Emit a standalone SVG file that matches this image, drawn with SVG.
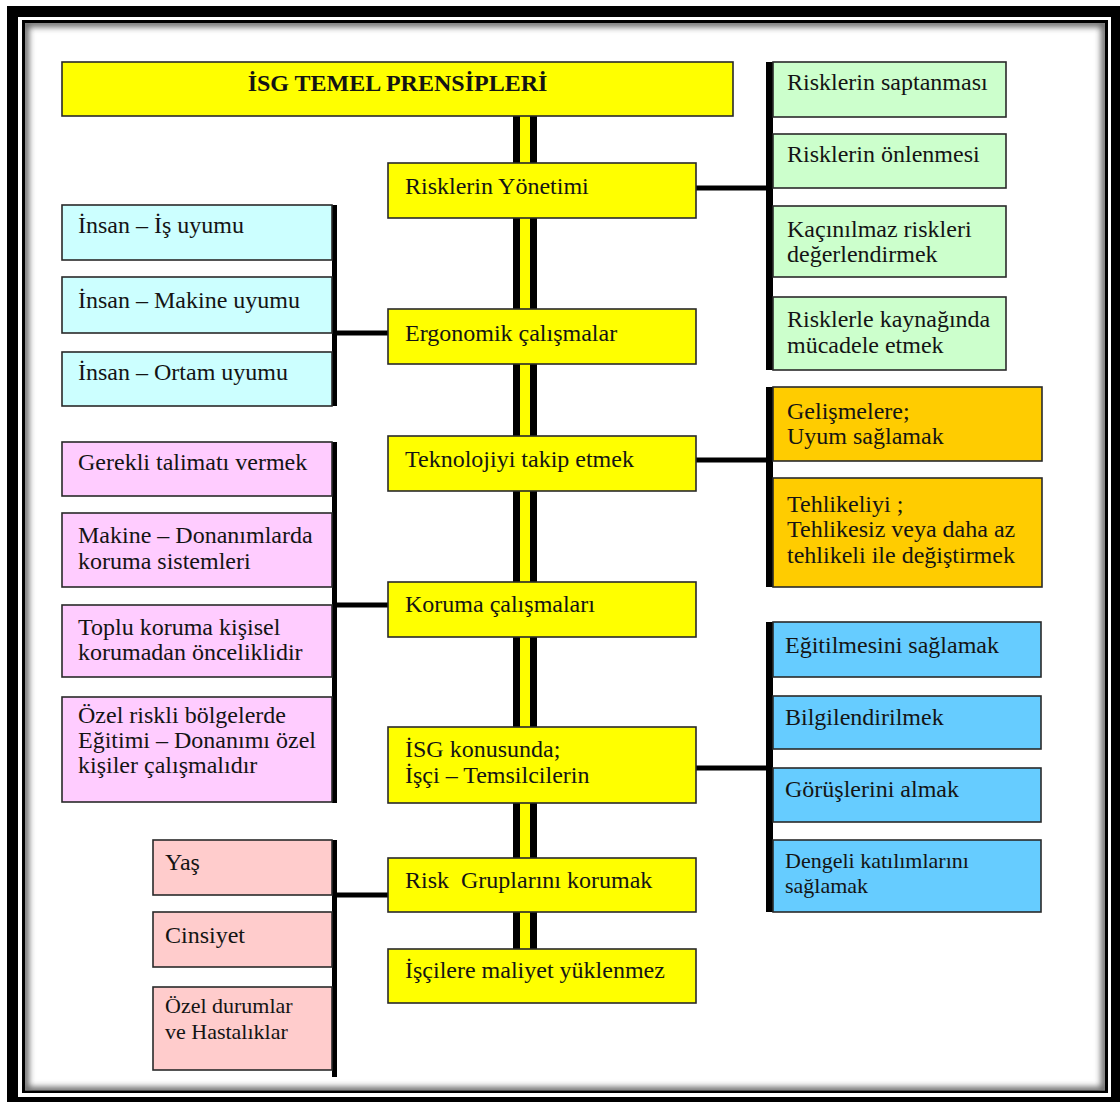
<svg xmlns="http://www.w3.org/2000/svg" width="1120" height="1102" viewBox="0 0 1120 1102">
  <defs>
    <style>
      .t { font-family: "Liberation Serif", "Times New Roman", serif; font-size: 24px; fill: #141414; white-space: pre; }
      .s { font-size: 22px; }
      .title { font-weight: bold; text-anchor: middle; }
      .box { stroke: #2a2a2a; stroke-width: 1.6; }
      .yel { fill: #ffff00; }
      .grn { fill: #ccffcc; }
      .cyn { fill: #ccffff; }
      .pnk { fill: #ffccff; }
      .org { fill: #ffcc00; }
      .blu { fill: #66ccff; }
      .sal { fill: #ffcccc; }
      .bar { fill: #000; }
      .ln { stroke: #000; stroke-width: 5; fill: none; }
    </style>
    <clipPath id="inner">
      <rect x="25" y="23" width="1080" height="1068"/>
    </clipPath>
    <filter id="blur" x="-5%" y="-5%" width="110%" height="110%">
      <feGaussianBlur stdDeviation="3"/>
    </filter>
  </defs>

  <!-- frame -->
  <rect x="0" y="0" width="1120" height="1102" fill="#fff"/>
  <rect x="7" y="6" width="1113" height="1096" fill="#000"/>
  <rect x="18" y="17" width="1093" height="1080" fill="#fff"/>
  <rect x="23.5" y="21.5" width="1083" height="1070" fill="#fff" stroke="#000" stroke-width="3"/>
  <g clip-path="url(#inner)">
    <rect x="25" y="23" width="1080" height="1068" fill="none" stroke="#666" stroke-width="8" filter="url(#blur)"/>
  </g>

  <!-- connectors -->
  <g id="connectors">
    <rect x="513" y="116" width="24" height="833" fill="#000"/>
    <rect x="520" y="116" width="10" height="833" fill="#ffff00"/>
    <line class="ln" x1="696" y1="188" x2="768" y2="188"/>
    <line class="ln" x1="335" y1="333" x2="388" y2="333"/>
    <line class="ln" x1="696" y1="460" x2="768" y2="460"/>
    <line class="ln" x1="335" y1="605" x2="388" y2="605"/>
    <line class="ln" x1="696" y1="768" x2="768" y2="768"/>
    <line class="ln" x1="335" y1="895" x2="388" y2="895"/>
    <rect class="bar" x="766" y="62" width="7" height="308"/>
    <rect class="bar" x="332" y="205" width="5" height="201"/>
    <rect class="bar" x="766" y="387" width="7" height="200"/>
    <rect class="bar" x="332" y="442" width="5" height="361"/>
    <rect class="bar" x="766" y="622" width="7" height="290"/>
    <rect class="bar" x="332" y="840" width="5" height="237"/>
  </g>

  <!-- main column -->
  <g id="title">
    <rect class="box yel" x="62" y="62" width="671" height="54"/>
    <text class="t title" x="397.5" y="91">İSG TEMEL PRENSİPLERİ</text>
  </g>
  <g id="risk-yonetimi">
    <rect class="box yel" x="388" y="163" width="308" height="55"/>
    <text class="t" x="405" y="194">Risklerin Yönetimi</text>
  </g>
  <g id="ergonomik">
    <rect class="box yel" x="388" y="309" width="308" height="55"/>
    <text class="t" x="405" y="341">Ergonomik çalışmalar</text>
  </g>
  <g id="teknoloji">
    <rect class="box yel" x="388" y="436" width="308" height="55"/>
    <text class="t" x="405" y="467">Teknolojiyi takip etmek</text>
  </g>
  <g id="koruma">
    <rect class="box yel" x="388" y="582" width="308" height="55"/>
    <text class="t" x="405" y="612">Koruma çalışmaları</text>
  </g>
  <g id="isg-konusunda">
    <rect class="box yel" x="388" y="727" width="308" height="76"/>
    <text class="t" x="405" y="757">İSG konusunda;</text>
    <text class="t" x="405" y="783">İşçi – Temsilcilerin</text>
  </g>
  <g id="risk-gruplari">
    <rect class="box yel" x="388" y="858" width="308" height="54"/>
    <text class="t" x="405" y="888">Risk  Gruplarını korumak</text>
  </g>
  <g id="maliyet">
    <rect class="box yel" x="388" y="949" width="308" height="54"/>
    <text class="t" x="405" y="978">İşçilere maliyet yüklenmez</text>
  </g>

  <!-- green (right top) -->
  <g id="g1">
    <rect class="box grn" x="773" y="62" width="233" height="55"/>
    <text class="t" x="787" y="90">Risklerin saptanması</text>
  </g>
  <g id="g2">
    <rect class="box grn" x="773" y="134" width="233" height="54"/>
    <text class="t" x="787" y="162">Risklerin önlenmesi</text>
  </g>
  <g id="g3">
    <rect class="box grn" x="773" y="206" width="233" height="71"/>
    <text class="t" x="787" y="237">Kaçınılmaz riskleri</text>
    <text class="t" x="787" y="262">değerlendirmek</text>
  </g>
  <g id="g4">
    <rect class="box grn" x="773" y="297" width="233" height="73"/>
    <text class="t" x="787" y="327">Risklerle kaynağında</text>
    <text class="t" x="787" y="353">mücadele etmek</text>
  </g>

  <!-- cyan (left) -->
  <g id="c1">
    <rect class="box cyn" x="62" y="205" width="270" height="55"/>
    <text class="t" x="78" y="233">İnsan – İş uyumu</text>
  </g>
  <g id="c2">
    <rect class="box cyn" x="62" y="277" width="270" height="56"/>
    <text class="t" x="78" y="308">İnsan – Makine uyumu</text>
  </g>
  <g id="c3">
    <rect class="box cyn" x="62" y="352" width="270" height="54"/>
    <text class="t" x="78" y="380">İnsan – Ortam uyumu</text>
  </g>

  <!-- orange (right) -->
  <g id="o1">
    <rect class="box org" x="773" y="387" width="269" height="74"/>
    <text class="t" x="787" y="419">Gelişmelere;</text>
    <text class="t" x="787" y="444">Uyum sağlamak</text>
  </g>
  <g id="o2">
    <rect class="box org" x="773" y="478" width="269" height="109"/>
    <text class="t" x="787" y="512">Tehlikeliyi ;</text>
    <text class="t" x="787" y="537">Tehlikesiz veya daha az</text>
    <text class="t" x="787" y="563">tehlikeli ile değiştirmek</text>
  </g>

  <!-- pink (left) -->
  <g id="p1">
    <rect class="box pnk" x="62" y="442" width="270" height="54"/>
    <text class="t" x="78" y="470">Gerekli talimatı vermek</text>
  </g>
  <g id="p2">
    <rect class="box pnk" x="62" y="513" width="270" height="74"/>
    <text class="t" x="78" y="543">Makine – Donanımlarda</text>
    <text class="t" x="78" y="569">koruma sistemleri</text>
  </g>
  <g id="p3">
    <rect class="box pnk" x="62" y="605" width="270" height="72"/>
    <text class="t" x="78" y="635">Toplu koruma kişisel</text>
    <text class="t" x="78" y="660">korumadan önceliklidir</text>
  </g>
  <g id="p4">
    <rect class="box pnk" x="62" y="697" width="270" height="105"/>
    <text class="t" x="78" y="723">Özel riskli bölgelerde</text>
    <text class="t" x="78" y="748">Eğitimi – Donanımı özel</text>
    <text class="t" x="78" y="773">kişiler çalışmalıdır</text>
  </g>

  <!-- blue (right) -->
  <g id="b1">
    <rect class="box blu" x="773" y="622" width="268" height="55"/>
    <text class="t" x="785" y="653">Eğitilmesini sağlamak</text>
  </g>
  <g id="b2">
    <rect class="box blu" x="773" y="696" width="268" height="53"/>
    <text class="t" x="785" y="725">Bilgilendirilmek</text>
  </g>
  <g id="b3">
    <rect class="box blu" x="773" y="768" width="268" height="54"/>
    <text class="t" x="785" y="797">Görüşlerini almak</text>
  </g>
  <g id="b4">
    <rect class="box blu" x="773" y="840" width="268" height="72"/>
    <text class="t s" x="785" y="868">Dengeli katılımlarını</text>
    <text class="t s" x="785" y="893">sağlamak</text>
  </g>

  <!-- salmon (left bottom) -->
  <g id="s1">
    <rect class="box sal" x="153" y="840" width="179" height="55"/>
    <text class="t" x="165" y="870">Yaş</text>
  </g>
  <g id="s2">
    <rect class="box sal" x="153" y="912" width="179" height="55"/>
    <text class="t" x="165" y="943">Cinsiyet</text>
  </g>
  <g id="s3">
    <rect class="box sal" x="153" y="987" width="179" height="83"/>
    <text class="t s" x="165" y="1013">Özel durumlar</text>
    <text class="t s" x="165" y="1039">ve Hastalıklar</text>
  </g>
</svg>
